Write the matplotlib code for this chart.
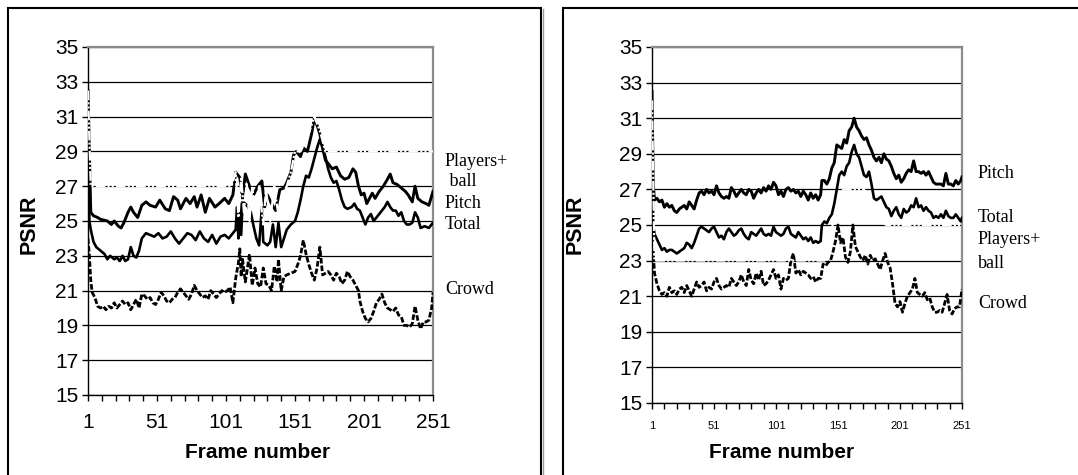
import matplotlib
matplotlib.use('Agg')
import matplotlib.pyplot as plt
from matplotlib.lines import Line2D
import numpy as np

plt.rcParams['font.family'] = ['Liberation Sans', 'DejaVu Sans']
plt.rcParams['lines.scale_dashes'] = False

W, H = 1078, 475

# ---------------- left chart data (frame, PSNR) ----------------
L_pitch_f = [1, 3, 5, 8, 10, 15, 18, 20, 23, 25, 27, 30, 32, 34, 37, 40, 43, 46, 50, 53, 57, 60, 63, 66, 68,
             72, 75, 78, 80, 83, 86, 89, 93, 96, 100, 103, 106, 108, 111, 113, 115, 118, 121, 124, 127, 129,
             131, 134, 137, 140, 143, 145, 148, 150, 152, 155, 157, 160, 163, 165, 167, 169, 171, 173, 176,
             178, 181, 184, 187, 190, 193, 195, 197, 199, 201, 203, 205, 207, 209, 212, 215, 218, 220, 222,
             225, 228, 231, 233, 236, 238, 240, 243, 246, 248, 251]
L_pitch_v = [32.5, 25.5, 25.3, 25.2, 25.1, 25.0, 24.8, 25.0, 24.7, 24.6, 24.9, 25.5, 25.8, 25.5, 25.2, 25.9,
             26.1, 25.9, 25.8, 26.2, 25.7, 25.6, 26.4, 26.2, 25.7, 26.3, 26.0, 26.4, 25.8, 26.5, 25.5, 26.3,
             25.8, 26.0, 26.3, 26.0, 26.5, 27.8, 27.5, 26.3, 27.7, 27.0, 26.5, 27.0, 27.3, 25.8, 26.5, 26.0,
             25.6, 26.8, 26.9, 27.2, 27.8, 28.8, 29.0, 28.7, 29.2, 29.0, 30.0, 30.9, 30.5, 30.0, 29.2, 28.5,
             28.2, 28.0, 28.1, 27.6, 27.4, 27.5, 28.0, 27.8, 27.0, 26.5, 26.6, 26.0, 26.3, 26.6, 26.3, 26.7,
             27.0, 27.4, 27.7, 27.2, 27.1, 26.9, 26.7, 26.5, 26.1, 27.0, 26.3, 26.1, 26.0, 25.9, 26.7]

L_total_f = [1, 2, 3, 5, 7, 10, 13, 15, 17, 20, 22, 24, 26, 28, 30, 32, 34, 36, 38, 40, 43, 46, 49, 52, 55,
             58, 61, 64, 67, 70, 73, 76, 79, 82, 85, 88, 91, 94, 97, 100, 103, 106, 108, 109, 110, 111, 112,
             113, 115, 117, 119, 121, 123, 125, 127, 128, 131, 133, 135, 137, 139, 141, 143, 145, 148, 151,
             153, 155, 157, 159, 161, 163, 165, 167, 169, 171, 173, 175, 177, 179, 181, 183, 185, 187, 189,
             192, 194, 196, 198, 200, 202, 204, 206, 208, 210, 213, 216, 218, 220, 222, 224, 226, 228, 230,
             232, 234, 236, 238, 240, 242, 245, 248, 251]
L_total_v = [31.0, 25.0, 24.5, 23.8, 23.5, 23.3, 23.1, 22.8, 23.0, 22.8, 22.9, 22.7, 23.0, 22.7, 22.8, 23.5,
             23.0, 22.9, 23.3, 24.0, 24.3, 24.2, 24.1, 24.3, 24.0, 24.1, 24.4, 24.0, 23.7, 24.0, 24.3, 24.2,
             23.9, 24.4, 24.0, 23.8, 24.2, 23.7, 24.1, 24.2, 24.0, 24.3, 24.5, 25.8, 24.0, 26.0, 24.2, 26.1,
             26.0, 25.8, 25.5, 24.7, 24.0, 23.6, 25.8, 23.8, 23.6, 23.8, 24.8, 23.5, 24.9, 23.5, 24.0, 24.5,
             24.8, 25.0, 25.5, 26.2, 27.0, 27.6, 27.5, 28.0, 28.6, 29.2, 29.7, 29.2, 28.7, 28.0, 27.5, 27.2,
             27.3, 26.8, 26.2, 25.8, 25.7, 25.8, 26.0, 25.7, 25.6, 25.2, 24.8, 25.2, 25.4, 25.0, 25.2, 25.5,
             25.8, 26.1, 25.8, 25.6, 25.6, 25.3, 25.5, 25.0, 24.8, 24.8, 24.9, 25.5, 25.2, 24.6, 24.7, 24.6,
             24.9]

L_crowd_f = [1, 2, 3, 4, 6, 8, 10, 12, 14, 16, 18, 20, 22, 24, 26, 28, 30, 32, 34, 36, 38, 40, 42, 44, 46,
             48, 50, 52, 54, 56, 58, 60, 62, 64, 66, 68, 70, 72, 74, 76, 78, 80, 82, 84, 86, 88, 90, 92, 94,
             96, 98, 100, 102, 104, 106, 108, 110, 111, 112, 113, 115, 116, 118, 120, 122, 124, 126, 128, 130,
             132, 134, 136, 138, 139, 141, 143, 145, 148, 151, 153, 155, 157, 159, 161, 163, 165, 167, 169,
             171, 173, 175, 177, 179, 181, 183, 185, 187, 189, 191, 193, 195, 197, 198, 200, 202, 204, 206,
             208, 210, 212, 214, 216, 218, 220, 222, 224, 226, 228, 230, 232, 234, 236, 238, 240, 242, 244,
             246, 248, 250, 251]
L_crowd_v = [24.0, 23.0, 21.6, 20.9, 20.6, 20.1, 20.0, 20.1, 19.9, 20.1, 20.0, 20.3, 20.0, 20.2, 20.4, 20.2,
             20.3, 19.9, 20.2, 20.5, 20.0, 20.8, 20.7, 20.5, 20.6, 20.3, 20.2, 20.5, 20.9, 20.7, 20.4, 20.3,
             20.5, 20.6, 20.9, 21.1, 20.9, 20.7, 20.5, 20.8, 21.3, 21.0, 20.8, 20.6, 20.7, 20.5, 21.0, 20.8,
             20.6, 20.8, 21.0, 20.9, 21.0, 21.2, 20.3, 21.7, 22.6, 23.4, 21.8, 22.8, 21.5, 22.0, 23.1, 21.3,
             22.3, 21.4, 21.2, 22.3, 21.4, 21.3, 21.0, 22.4, 21.5, 22.8, 21.0, 21.8, 21.9, 22.0, 22.1, 22.5,
             23.0, 23.9, 23.1, 22.5, 22.0, 21.6, 22.3, 23.5, 21.9, 22.0, 22.1, 21.9, 21.6, 22.0, 21.8, 21.4,
             21.6, 22.1, 21.8, 21.6, 21.3, 21.0, 20.4, 19.8, 19.4, 19.2, 19.4, 19.8, 20.3, 20.5, 20.8, 20.3,
             20.0, 19.9, 19.8, 20.0, 19.6, 19.5, 19.0, 19.0, 18.9, 19.1, 20.1, 19.3, 18.8, 19.2, 19.2, 19.3,
             20.0, 20.9]

L_players_f = [1, 3, 105, 108, 110, 112, 114, 116, 118, 120, 122, 125, 128, 130, 133, 136, 139, 142, 145,
               148, 151, 155, 160, 165, 169, 173, 180, 251]
L_players_v = [32.5, 27.0, 27.0, 27.8, 25.2, 27.5, 25.5, 27.2, 25.0, 27.0, 25.5, 27.0, 24.8, 26.8, 25.0,
               27.0, 25.3, 26.5, 27.0, 27.8, 29.0, 29.0, 29.8, 31.0, 30.2, 29.0, 29.0, 29.0]

# ---------------- right chart data ----------------
R_pitch_f = list(range(1, 4)) + list(range(5, 138, 2)) + [138] + list(range(140, 251, 2)) + [251]
R_pitch_v = [32.5, 27.3, 26.4,
             26.5, 26.3, 26.4, 26.0, 26.2, 26.0, 26.1, 25.8, 25.7, 25.9, 26.0, 26.1, 25.9, 26.3, 26.1, 25.9,
             26.4, 26.8, 26.9, 26.7, 27.0, 26.8, 26.9, 26.7, 27.2, 26.8, 26.6, 26.5, 26.6, 26.5, 27.1, 26.9,
             26.6, 26.8, 27.0, 26.8, 26.7, 27.0, 26.9, 26.5, 26.8, 27.0, 26.8, 27.1, 26.9, 27.2, 27.0, 27.4,
             27.2, 26.7, 26.9, 26.6, 27.0, 27.1, 26.9, 27.0, 26.8, 26.9, 26.6, 26.9, 26.7, 26.4, 26.8, 26.5,
             26.7, 26.4, 26.7,
             27.5,
             27.5, 27.3, 27.6, 28.2, 28.5, 29.5, 29.4, 29.3, 29.8, 29.6, 30.3, 30.5, 31.0, 30.5, 30.3, 30.0,
             29.8, 29.9, 29.5, 29.2, 28.8, 28.6, 28.8, 28.5, 29.0, 28.7, 28.6, 28.3, 27.9, 27.6, 27.8, 27.4,
             27.6, 27.9, 28.1, 28.0, 28.6, 28.0, 28.0, 27.9, 28.0, 27.8, 28.0, 27.7, 27.4, 27.3, 27.3, 27.3,
             27.2, 27.9, 27.3, 27.3, 27.2, 27.5, 27.3, 27.5,
             27.7]

R_total_f = R_pitch_f
R_total_v = [31.0, 25.0, 24.5,
             24.2, 23.9, 23.6, 23.7, 23.5, 23.6, 23.6, 23.5, 23.4, 23.5, 23.6, 23.7, 24.0, 23.9, 23.7, 24.0,
             24.4, 24.8, 24.9, 24.8, 24.7, 24.6, 24.8, 24.9, 24.6, 24.3, 24.4, 24.2, 24.6, 24.8, 24.6, 24.4,
             24.5, 24.7, 24.8, 24.5, 24.3, 24.2, 24.6, 24.5, 24.4, 24.6, 24.8, 24.5, 24.4, 24.5, 24.4, 24.9,
             24.6, 24.5, 24.4, 24.5, 24.8, 24.9, 24.5, 24.4, 24.3, 24.6, 24.4, 24.2, 24.3, 24.1, 24.3, 24.0,
             24.1, 24.0, 24.1,
             25.0,
             25.2, 25.1, 25.4, 25.6, 26.2, 27.0, 27.8, 28.0, 27.8, 28.3, 28.5, 29.1, 29.5, 29.0, 28.8, 28.3,
             27.8, 27.7, 28.0, 27.3, 26.5, 26.4, 26.5, 26.6, 26.3, 26.0, 25.9, 25.5, 25.8, 26.0, 25.6, 25.4,
             25.9, 25.7, 25.8, 26.1, 26.0, 26.5, 26.0, 26.1, 25.8, 26.0, 25.8, 25.7, 25.4, 25.5, 25.4, 25.6,
             25.4, 25.8, 25.5, 25.4, 25.4, 25.6, 25.4, 25.2,
             25.4]

R_crowd_f = [1, 2, 3] + list(range(5, 251, 2)) + [251]
R_crowd_v = [25.0, 23.5, 22.3,
             21.7, 21.3, 21.1, 21.2, 21.0, 21.5, 21.2, 21.3, 21.1, 21.4, 21.5, 21.2, 21.6, 21.3, 21.0, 21.4,
             21.8, 21.5, 21.6, 21.8, 21.3, 21.5, 21.4, 21.8, 22.0, 21.6, 21.4, 21.5, 21.6, 21.5, 22.0, 21.8,
             21.6, 21.8, 22.2, 21.8, 21.6, 22.5, 21.9, 21.7, 22.3, 21.9, 22.4, 21.6, 21.7, 21.9, 22.2, 22.5,
             22.0, 22.2, 21.4, 22.0, 21.9, 22.0, 23.0, 23.4, 22.3, 22.5, 22.2, 22.4, 22.3, 22.2, 22.0, 22.1,
             21.8, 22.0, 22.0, 22.8, 22.7, 22.9, 23.0, 23.5, 24.1, 25.0, 24.0, 24.3, 23.2, 22.9, 23.5, 25.0,
             23.8, 23.5, 23.2, 23.0, 23.3, 22.8, 23.3, 23.0, 23.1, 22.8, 22.5, 23.0, 23.4, 22.9, 22.6, 21.7,
             20.6, 20.4, 20.7, 20.1, 20.6, 21.0, 21.2, 21.4, 22.0, 21.2, 21.1, 21.0, 21.2, 20.8, 20.9, 20.4,
             20.1, 20.1, 20.2, 20.1, 20.6, 21.1, 20.2, 20.0, 20.3, 20.4, 20.4,
             21.4]

R_players_f = [1, 3, 140, 145, 150, 155, 172, 178, 185, 190, 251]
R_players_v = [32.0, 23.0, 23.0, 24.5, 26.0, 27.0, 27.0, 26.0, 25.2, 25.0, 25.0]

y_ticks = list(range(15, 36, 2))
x_labels = [1, 51, 101, 151, 201, 251]

fig = plt.figure(figsize=(W / 100, H / 100), dpi=100)


def px_box(x0, y0, x1, y1):
    return [x0 / W, 1 - y1 / H, (x1 - x0) / W, (y1 - y0) / H]


# frames around each chart
for bx0, bx1 in [(8, 541), (563, 1090)]:
    fig.add_artist(Line2D([(bx1 + 1.5) / W, (bx1 + 1.5) / W], [1 - 9 / H, -0.01],
                          color='#999999', lw=1.0, transform=fig.transFigure))
    fig.add_artist(plt.Rectangle((bx0 / W, -0.05), (bx1 - bx0) / W, (H - 8) / H + 0.05,
                                 transform=fig.transFigure, fill=False, ec='black', lw=1.5))


def draw_chart(box, xtick_size, series, labels, xlab_y, ylab_x, xlabel_x):
    ax = fig.add_axes(px_box(*box))
    ax.set_xlim(1, 251)
    ax.set_ylim(15, 35)
    ax.set_yticks(y_ticks)
    ax.set_xticks(x_labels)
    ax.set_xticks(list(range(1, 252, 10)), minor=True)
    ax.tick_params(axis='y', labelsize=15, length=4, width=1, direction='out', pad=3)
    ax.tick_params(axis='x', which='major', labelsize=xtick_size, length=4, width=1, pad=9)
    ax.tick_params(axis='x', which='minor', length=4, width=1)
    ax.yaxis.grid(True, color='black', lw=0.9)
    for s in ['top', 'right']:
        ax.spines[s].set_color('#8c8c8c')
        ax.spines[s].set_linewidth(1.6)
    for s in ['left', 'bottom']:
        ax.spines[s].set_color('black')
        ax.spines[s].set_linewidth(1.0)

    (pf, pv), (tf, tv), (cf, cv), (bf, bv) = series
    ax.plot(tf, tv, color='black', lw=1.9, zorder=3)
    ax.plot(pf, pv, color='black', lw=2.1, zorder=3)
    ax.plot(cf, cv, color='black', lw=2.0, dashes=(4, 1.5), zorder=3)
    ax.plot(bf, bv, color='white', lw=1.6, dashes=(7, 1.5, 1.5, 1.5, 1.5, 1.5), zorder=4)

    for text, x, y in labels:
        fig.text(x / W, 1 - y / H, text, family=['Liberation Serif', 'DejaVu Serif'],
                 fontsize=13, ha='left', va='center')
    fig.text(ylab_x / W, 1 - 224 / H, 'PSNR', rotation=90, fontsize=15.5, fontweight='bold',
             ha='center', va='center')
    fig.text(xlabel_x / W, 1 - xlab_y / H, 'Frame number', fontsize=15, fontweight='bold',
             ha='center', va='center')
    return ax


draw_chart((88, 47, 433, 395), 15,
           [(L_pitch_f, L_pitch_v), (L_total_f, L_total_v), (L_crowd_f, L_crowd_v),
            (L_players_f, L_players_v)],
           [('Players+', 445, 162), (' ball', 445, 182), ('Pitch', 445, 203), ('Total', 445, 225),
            ('Crowd', 445, 290)],
           452, 29, 258)

draw_chart((652, 47, 962, 403), 8,
           [(R_pitch_f, R_pitch_v), (R_total_f, R_total_v), (R_crowd_f, R_crowd_v),
            (R_players_f, R_players_v)],
           [('Pitch', 978, 173), ('Total', 978, 217), ('Players+', 978, 240), ('ball', 978, 263),
            ('Crowd', 978, 303)],
           452, 575, 782)

fig.savefig('out.png', dpi=100)
